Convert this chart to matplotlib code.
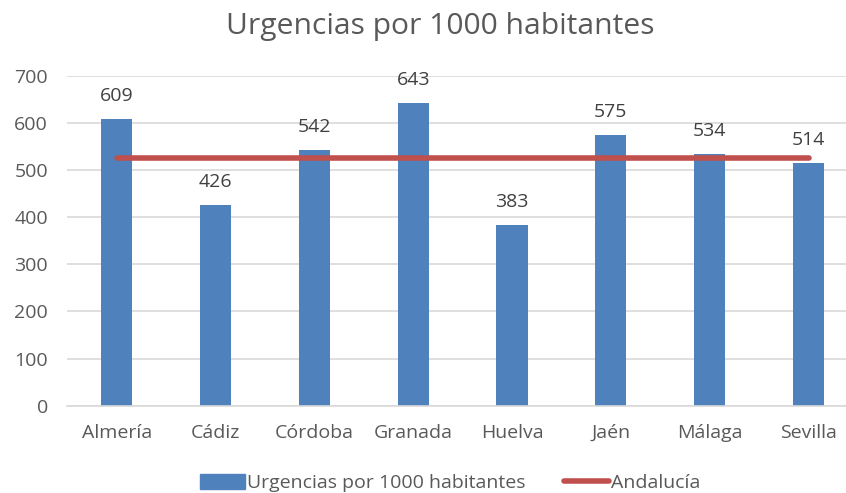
import matplotlib
matplotlib.use("Agg")
import matplotlib.pyplot as plt
from matplotlib.patches import Patch
from matplotlib.lines import Line2D

categories = ["Almería", "Cádiz", "Córdoba", "Granada", "Huelva", "Jaén", "Málaga", "Sevilla"]
urgencias = [609, 426, 542, 643, 383, 575, 534, 514]
andalucia = [525] * len(categories)
yticks = [0, 100, 200, 300, 400, 500, 600, 700]

plt.rcParams['font.family'] = ['Open Sans', 'DejaVu Sans']
txt = '#595959'
bar_c = '#4F81BD'
line_c = '#C0504D'

fig = plt.figure(figsize=(8.46, 4.93), dpi=100)
ax = fig.add_axes([0.0796, 0.1771, 0.9345, 0.6694])
x = list(range(len(categories)))
ax.bar(x, urgencias, width=0.315, color=bar_c, zorder=2)
ax.plot(x, andalucia, color=line_c, lw=4, solid_capstyle='round', zorder=3)
for xi, v in zip(x, urgencias):
    ax.annotate(str(v), (xi, v), xytext=(0, 10), textcoords='offset points',
                ha='center', va='bottom', fontsize=14, color='#404040')
ax.set_xlim(-0.5, len(categories) - 0.5)
ax.set_ylim(0, 700)
ax.set_yticks(yticks)
ax.set_xticks(x)
ax.set_xticklabels(categories)
ax.tick_params(axis='both', length=0, labelsize=14, labelcolor=txt)
ax.tick_params(axis='x', pad=13)
ax.tick_params(axis='y', pad=14)
ax.grid(axis='y', color='#D9D9D9', lw=1.2, zorder=0)
for s in ['top', 'right', 'left']:
    ax.spines[s].set_visible(False)
ax.spines['bottom'].set_color('#D9D9D9')
ax.spines['bottom'].set_linewidth(1.2)

fig.text(0.52, 0.947, "Urgencias por 1000 habitantes", ha='center', va='center',
         fontsize=21.6, color=txt)

handles = [Patch(color=bar_c), Line2D([0], [0], color=line_c, lw=4, solid_capstyle='round')]
fig.legend(handles, ["Urgencias por 1000 habitantes", "Andalucía"], loc='center',
           bbox_to_anchor=(0.532, 0.02), ncol=2, frameon=False, fontsize=14,
           labelcolor=txt, handlelength=2.3, handleheight=0.85, handletextpad=0.1,
           columnspacing=2.0)

fig.savefig("out.png", dpi=100)
